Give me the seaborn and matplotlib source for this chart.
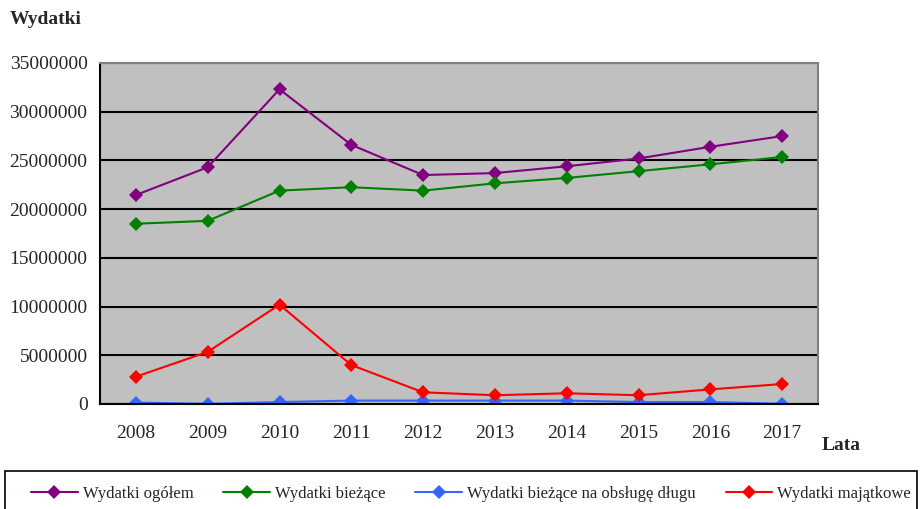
import matplotlib
matplotlib.use("Agg")
import matplotlib.pyplot as plt
import seaborn as sns
import pandas as pd
from matplotlib.patches import Rectangle
from matplotlib.lines import Line2D

years = ["2008", "2009", "2010", "2011", "2012", "2013", "2014", "2015", "2016", "2017"]
ogolem = [21450000, 24300000, 32300000, 26600000, 23500000, 23700000, 24400000, 25200000, 26400000, 27500000]
biezace = [18500000, 18800000, 21900000, 22250000, 21900000, 22650000, 23200000, 23900000, 24600000, 25350000]
dlug = [150000, 20000, 200000, 350000, 350000, 350000, 350000, 200000, 200000, 30000]
majatkowe = [2800000, 5350000, 10200000, 4000000, 1200000, 900000, 1100000, 900000, 1500000, 2050000]

names = ["Wydatki ogółem", "Wydatki bieżące", "Wydatki bieżące na obsługę długu", "Wydatki majątkowe"]
colors = ["#800080", "#008000", "#3366FF", "#FF0000"]

rows = []
for name, vals in zip(names, [ogolem, biezace, dlug, majatkowe]):
    for i, v in enumerate(vals):
        rows.append({"x": i, "rok": years[i], "seria": name, "wartosc": v})
df = pd.DataFrame(rows)

sns.set_style("white")
plt.rcParams["font.family"] = ["Liberation Serif", "DejaVu Serif"]

fig = plt.figure(figsize=(9.21, 5.09), dpi=100)
ax = fig.add_axes([100/921, 1-404/509, 718/921, 341/509])
ax.set_facecolor("#C0C0C0")

sns.lineplot(data=df, x="x", y="wartosc", hue="seria", hue_order=names,
             palette=colors, marker="D", markersize=7.5, markeredgewidth=0,
             linewidth=1.5, ax=ax, legend=False)

ax.set_xlim(-0.5, 9.5)
ax.set_ylim(0, 35000000)
ax.set_yticks(range(0, 35000001, 5000000))
ax.set_yticklabels([str(v) for v in range(0, 35000001, 5000000)], fontsize=14)
ax.yaxis.grid(True, color="black", linewidth=1.5)
ax.set_axisbelow(True)
ax.set_xticks(range(10))
ax.set_xticklabels(years, fontsize=14)
ax.set_xticks([i - 0.5 for i in range(11)], minor=True)
ax.tick_params(axis="x", which="major", length=0, pad=15)
ax.tick_params(axis="x", which="minor", length=5, width=1.2, color="black", direction="out")
ax.tick_params(axis="y", which="major", length=5, width=1.2, color="black", direction="out", pad=4)
ax.set_xlabel("")
ax.set_ylabel("")
for s in ["top", "right"]:
    ax.spines[s].set_color("#808080")
    ax.spines[s].set_linewidth(1.5)
for s in ["left", "bottom"]:
    ax.spines[s].set_color("black")
    ax.spines[s].set_linewidth(1.5)

fig.text(10/921, 1-20/509, "Wydatki", fontsize=14, fontweight="bold", va="center", ha="left")
fig.text(822/921, 1-445/509, "Lata", fontsize=14, fontweight="bold", va="center", ha="left")

fig.patches.append(Rectangle((5/921, -0.05), 0.99, (509-471)/509 + 0.05,
                             transform=fig.transFigure, fill=False,
                             edgecolor="black", linewidth=1.2))

handles = [Line2D([0], [0], color=c, marker="D", markersize=7, linewidth=1.5,
                  markeredgewidth=0) for c in colors]
fig.legend(handles, names, loc="center", bbox_to_anchor=(471/921, 1-494/509),
           ncol=4, frameon=False, fontsize=12, handlelength=2.8,
           columnspacing=1.8, handletextpad=0.3)

fig.savefig("out.png", dpi=100)
